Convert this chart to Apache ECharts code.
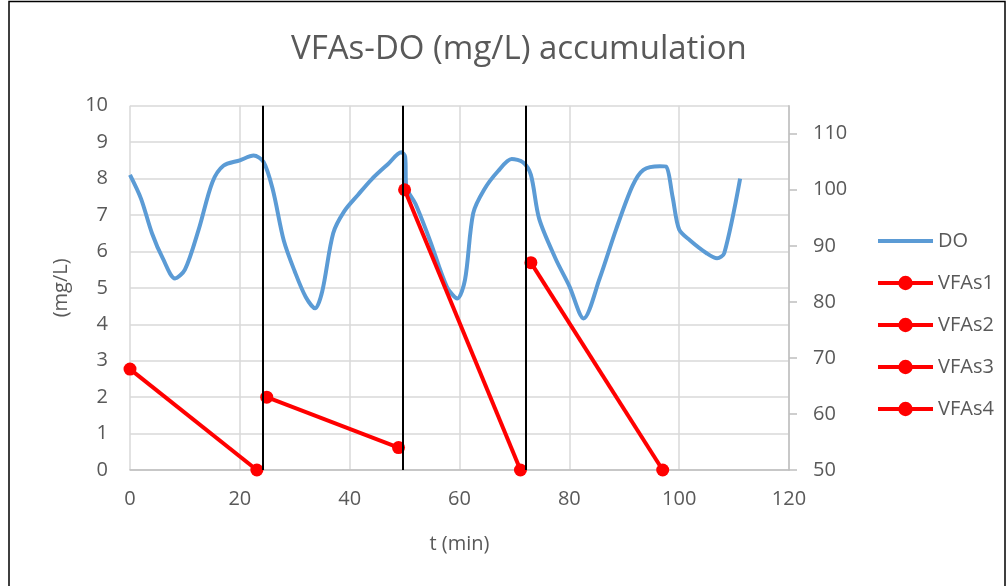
<!DOCTYPE html>
<html>
<head>
<meta charset="utf-8">
<script src="https://cdn.jsdelivr.net/npm/echarts@6/dist/echarts.min.js"></script>
<style>
  html, body { margin: 0; padding: 0; background: #fff; }
  #chart { width: 1008px; height: 586px; }
</style>
</head>
<body>
<div id="chart"></div>
<script>
// Dissolved oxygen (mg/L) over time, [t (min), DO]
const doSeries = [
  [0, 8.1], [2, 7.45], [4, 6.5], [6, 5.8], [8.2, 5.26], [10, 5.5], [12.5, 6.6],
  [15, 7.9], [17, 8.35], [20, 8.5], [22.5, 8.63], [24.3, 8.46], [26, 7.7], [28, 6.3],
  [30, 5.45], [32, 4.75], [33.7, 4.44], [35, 4.9], [37, 6.5], [39, 7.1], [41.5, 7.55],
  [44, 7.98], [47, 8.4], [49.4, 8.72], [50.1, 8.6], [50.3, 7.78], [52, 7.3], [54.6, 6.31],
  [57.7, 5.03], [59.6, 4.71], [61, 5.22], [62.5, 7.05], [64.5, 7.7], [67, 8.2],
  [69.5, 8.54], [71.6, 8.44], [73, 8.1], [74.5, 6.9], [77.5, 5.8], [80, 5.05],
  [82.6, 4.16], [85.5, 5.25], [88.5, 6.6], [91.5, 7.8], [93.5, 8.24], [96.5, 8.34],
  [97.6, 8.33], [98.8, 7.5], [100, 6.6], [102, 6.3], [105, 5.95], [106.9, 5.81],
  [108.2, 5.95], [111.1, 8.0]
];

// VFAs (mg/L) at the start and end of each feeding cycle, [t (min), VFAs]
const vfas1 = [[0, 68], [23.1, 50]];
const vfas2 = [[24.9, 63], [48.9, 54]];
const vfas3 = [[50, 100], [71.1, 50]];
const vfas4 = [[73, 87], [97, 50]];

// Cycle boundaries (min)
const cycleBounds = [24.2, 49.7, 72];

const seriesNames = ['DO', 'VFAs1', 'VFAs2', 'VFAs3', 'VFAs4'];

const textColor = '#595959';
const gridColor = '#d9d9d9';
const axisColor = '#bfbfbf';
const fontFamily = "'Open Sans', 'Liberation Sans', sans-serif";

function vfaSeries(name, data) {
  return {
    name: name,
    type: 'line',
    yAxisIndex: 1,
    data: data,
    symbol: 'circle',
    symbolSize: 13,
    lineStyle: { color: '#ff0000', width: 4 },
    itemStyle: { color: '#ff0000' },
    z: 4
  };
}

const chart = echarts.init(document.getElementById('chart'), null, { renderer: 'canvas' });

chart.setOption({
  animation: false,
  backgroundColor: '#ffffff',
  textStyle: { fontFamily: fontFamily },
  graphic: [{
    type: 'rect',
    shape: { x: 9, y: 1.5, width: 996, height: 600 },
    style: { fill: 'none', stroke: '#000', lineWidth: 1.5 },
    silent: true
  }],
  title: {
    text: 'VFAs-DO (mg/L) accumulation',
    left: 286,
    top: 28,
    textStyle: { color: textColor, fontSize: 33, fontWeight: 'normal', fontFamily: fontFamily }
  },
  legend: {
    orient: 'vertical',
    left: 876,
    top: 231,
    padding: 0,
    itemWidth: 55,
    itemHeight: 18,
    itemGap: 22,
    lineStyle: { width: 4 },
    data: [
      { name: 'DO', itemStyle: { opacity: 0 } },
      'VFAs1', 'VFAs2', 'VFAs3', 'VFAs4'
    ],
    textStyle: { color: textColor, fontSize: 20, lineHeight: 20, fontFamily: fontFamily }
  },
  grid: { left: 130, top: 105.7, right: 219, bottom: 116, containLabel: false },
  xAxis: {
    type: 'value',
    min: 0,
    max: 120,
    interval: 20,
    name: 't (min)',
    nameLocation: 'middle',
    nameGap: 64,
    nameTextStyle: { color: textColor, fontSize: 20 },
    axisLine: { show: true, lineStyle: { color: axisColor, width: 1.5 } },
    axisTick: { show: false },
    axisLabel: { color: textColor, fontSize: 20, margin: 19 },
    splitLine: { show: true, lineStyle: { color: gridColor, width: 1.5 } }
  },
  yAxis: [{
    type: 'value',
    min: 0,
    max: 10,
    interval: 1,
    name: '(mg/L)',
    nameLocation: 'middle',
    nameGap: 59,
    nameRotate: 90,
    nameTextStyle: { color: textColor, fontSize: 20 },
    axisLine: { show: false },
    axisTick: { show: false },
    axisLabel: { color: textColor, fontSize: 20, margin: 22 },
    splitLine: { show: true, lineStyle: { color: gridColor, width: 1.5 } }
  }, {
    type: 'value',
    position: 'right',
    min: 50,
    max: 115,
    interval: 10,
    axisLine: { show: true, lineStyle: { color: axisColor, width: 1.5 } },
    axisTick: { show: true, inside: false, length: 8, lineStyle: { color: axisColor, width: 1.5 } },
    axisLabel: { color: textColor, fontSize: 20, margin: 24, showMaxLabel: false },
    splitLine: { show: false }
  }],
  series: [{
    name: 'DO',
    type: 'line',
    yAxisIndex: 0,
    data: doSeries,
    smooth: 0.3,
    showSymbol: false,
    symbol: 'none',
    lineStyle: { color: '#5b9bd5', width: 4 },
    itemStyle: { color: '#5b9bd5' },
    z: 3,
    markLine: {
      silent: true,
      symbol: 'none',
      label: { show: false },
      lineStyle: { color: '#000', width: 2, type: 'solid' },
      data: cycleBounds.map(t => ({ xAxis: t }))
    }
  },
    vfaSeries('VFAs1', vfas1),
    vfaSeries('VFAs2', vfas2),
    vfaSeries('VFAs3', vfas3),
    vfaSeries('VFAs4', vfas4)
  ]
});
</script>
</body>
</html>
